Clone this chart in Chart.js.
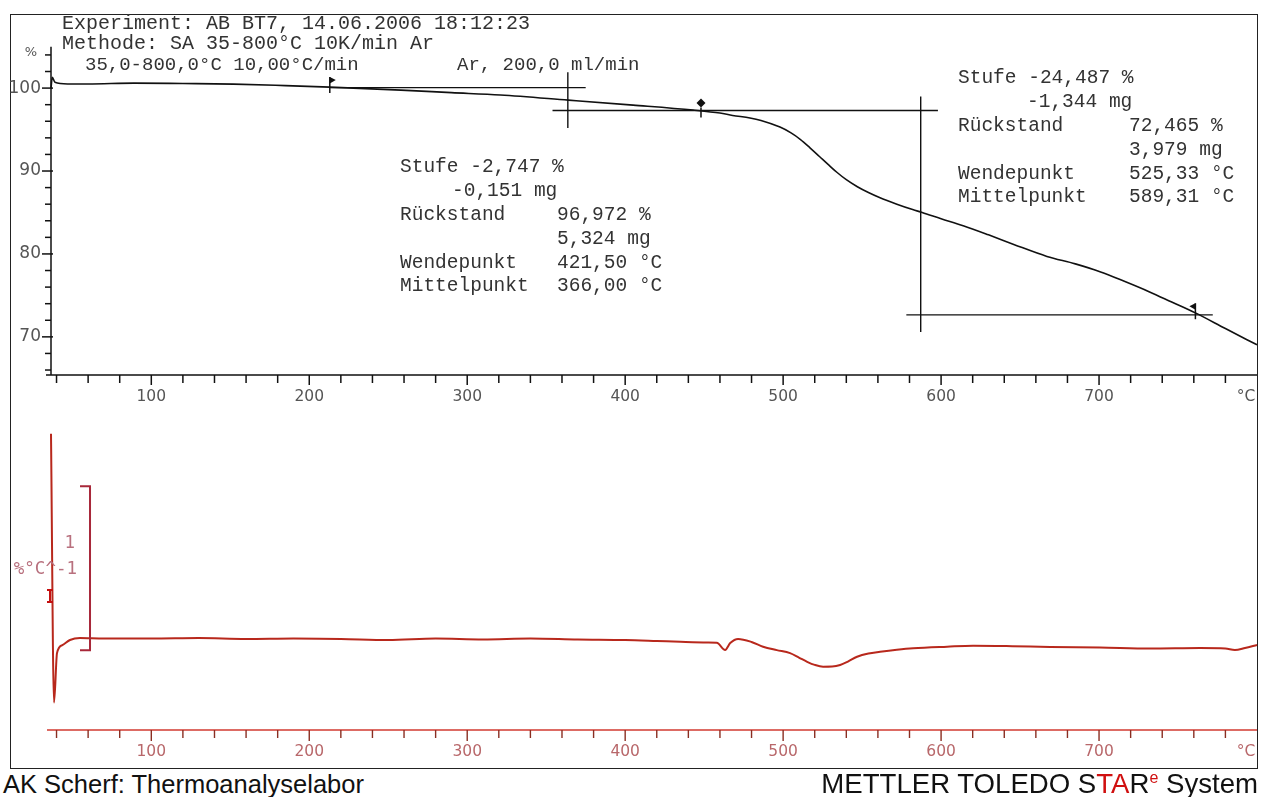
<!DOCTYPE html>
<html>
<head>
<meta charset="utf-8">
<title>TGA AB BT7</title>
<script src="https://cdn.jsdelivr.net/npm/chart.js"></script>
<style>
  body { margin: 0; background: #fff; }
  #page { position: relative; width: 1264px; height: 797px; overflow: hidden; }
  #frame { position: absolute; left: 10px; top: 14px; width: 1248px; height: 755px; border: 1.5px solid #222; box-sizing: border-box; }
  canvas { position: absolute; left: 0; }
  #tga { top: 0; }
  #dtg { top: 420px; }
  .foot { position: absolute; top: 770px; font-family: "Liberation Sans", Arial, sans-serif; color: #111; line-height: 28px; white-space: nowrap; }
  .foot sup { font-size: 16px; line-height: 0; color: #d01010; }
</style>
</head>
<body>
<div id="page">
  <div id="frame"></div>
  <canvas id="tga" width="1264" height="420"></canvas>
  <canvas id="dtg" width="1264" height="350"></canvas>
  <div class="foot" style="left:3px; font-size:25.5px">AK Scherf: Thermoanalyselabor</div>
  <div class="foot" style="right:6px; font-size:27.6px">METTLER TOLEDO S<span style="color:#d01010">TA</span>R<sup>e</sup> System</div>
</div>

<script>
// TGA curve (mass in %) against temperature in °C
const tgaTemp = [36.5, 37.3, 39, 47, 60, 89, 120, 152, 185, 213, 258, 290, 321, 364, 405, 443, 460, 468, 479, 486,
                 498, 505, 511, 517, 523, 529, 534, 540, 547, 554, 561, 572, 582, 588, 600, 614, 630, 646, 667, 685,
                 701, 716, 732, 746, 761, 780, 800];
const tgaMass = [100.0, 101.3, 100.7, 100.5, 100.5, 100.6, 100.55, 100.48, 100.3, 100.12, 99.76, 99.45, 99.16, 98.55, 97.95, 97.35, 96.99, 96.7, 96.4, 96.1,
                 95.3, 94.6, 93.8, 92.8, 91.75, 90.7, 89.85, 88.95, 88.1, 87.4, 86.8, 86.0, 85.35, 85.0, 84.25, 83.4, 82.3, 81.15, 79.7, 78.8,
                 77.83, 76.7, 75.42, 74.2, 72.89, 71.0, 69.04];

// DTG curve (%/°C)
const dtgTemp = [36.5, 38.4, 40.3, 43.7, 48.5, 54.8, 70, 100, 130, 160, 190, 220, 250, 280, 310, 340, 370, 400, 420, 435,
                 452, 458, 463.3, 466.5, 471.5, 480, 487.3, 496, 504.4, 510, 515.2, 520, 525.3, 531, 536.1, 541, 546.8, 554, 561.4, 572,
                 582.3, 603.8, 620.3, 645, 669, 700.6, 732.3, 764, 780, 786, 792.4, 800];
const dtgRate = [1.24, -0.40, -0.098, -0.049, -0.018, -0.006, -0.009, -0.009, -0.006, -0.012, -0.009, -0.012, -0.018, -0.009, -0.015, -0.009, -0.015, -0.018, -0.024, -0.029,
                 -0.033, -0.035, -0.079, -0.037, -0.012, -0.03, -0.059, -0.08, -0.098, -0.125, -0.151, -0.170, -0.181, -0.180, -0.171, -0.150, -0.120, -0.100, -0.090, -0.078,
                 -0.069, -0.059, -0.053, -0.056, -0.061, -0.064, -0.070, -0.067, -0.070, -0.079, -0.067, -0.049];

// step evaluation: horizontal tangents and vertical midpoint lines
const tangentStart = [213, 354, 578];
const tangentEnd = [375, 598, 772];
const tangentLevel = [100.06, 97.29, 72.65];
const midTemp = [363.7, 587.1];
const midTop = [101.9, 99.0];
const midBottom = [95.2, 70.6];

// markers on the curve
const markTemp = [213, 448, 761];
const markMass = [100.12, 97.3, 72.85];
const markKind = ['flagR', 'diamond', 'flagL'];

const xTickLabels = [100, 200, 300, 400, 500, 600, 700];
const yTickLabels = [70, 80, 90, 100];

const dtgScaleBar = [0.92, -0.08]; // 1 %/°C

const mono = '19.5px "Liberation Mono", "Courier New", monospace';
const sans = '15.5px "DejaVu Sans", Verdana, sans-serif';

const tgaDatasets = [{
    data: tgaTemp.map((t, i) => ({ x: t, y: tgaMass[i] })),
    borderColor: '#111', borderWidth: 1.6, pointRadius: 0,
    cubicInterpolationMode: 'monotone', clip: false
}];
tangentLevel.forEach((lvl, i) => {
    tgaDatasets.push({
        data: [{ x: tangentStart[i], y: lvl }, { x: tangentEnd[i], y: lvl }],
        borderColor: '#111', borderWidth: 1.4, pointRadius: 0
    });
});
midTemp.forEach((t, i) => {
    tgaDatasets.push({
        data: [{ x: t, y: midTop[i] }, { x: t, y: midBottom[i] }],
        borderColor: '#111', borderWidth: 1.4, pointRadius: 0
    });
});

const tgaDecor = {
    id: 'tgaDecor',
    afterDraw(chart) {
        const { ctx, chartArea: a, scales: { x, y } } = chart;
        ctx.save();
        ctx.strokeStyle = '#111';
        ctx.lineWidth = 1.5;
        ctx.beginPath();
        ctx.moveTo(a.left - 5, a.bottom);
        ctx.lineTo(a.right, a.bottom);
        ctx.moveTo(a.left, y.getPixelForValue(105));
        ctx.lineTo(a.left, a.bottom);
        ctx.stroke();

        for (let t = 40; t <= 780; t += 20) {
            const px = x.getPixelForValue(t);
            const len = t % 100 === 0 ? 10 : 8;
            ctx.beginPath();
            ctx.moveTo(px, a.bottom);
            ctx.lineTo(px, a.bottom + len);
            ctx.stroke();
        }
        for (let v = 66; v <= 104; v += 2) {
            const py = y.getPixelForValue(v);
            const major = v % 10 === 0;
            ctx.beginPath();
            ctx.moveTo(a.left - (major ? 9 : 6), py);
            ctx.lineTo(a.left + (major ? 2 : 0), py);
            ctx.stroke();
        }

        ctx.fillStyle = '#555';
        ctx.font = sans;
        ctx.textAlign = 'center';
        ctx.textBaseline = 'middle';
        xTickLabels.forEach(t => ctx.fillText(String(t), x.getPixelForValue(t), 397));
        ctx.fillText('°C', 1246, 397);
        ctx.font = '17px "DejaVu Sans", Verdana, sans-serif';
        ctx.textAlign = 'right';
        yTickLabels.forEach(v => ctx.fillText(String(v), a.left - 10, y.getPixelForValue(v)));
        ctx.font = '13px "DejaVu Sans", sans-serif';
        ctx.textAlign = 'center';
        ctx.fillText('%', 31, 53);

        // header and evaluation texts
        ctx.fillStyle = '#333';
        ctx.textAlign = 'left';
        ctx.textBaseline = 'alphabetic';
        ctx.font = '20px "Liberation Mono", "Courier New", monospace';
        ctx.fillText('Experiment: AB BT7, 14.06.2006 18:12:23', 62, 29);
        ctx.fillText('Methode: SA 35-800°C 10K/min Ar', 62, 49);
        ctx.font = '19px "Liberation Mono", "Courier New", monospace';
        ctx.fillText('35,0-800,0°C 10,00°C/min', 85, 70);
        ctx.fillText('Ar, 200,0 ml/min', 457, 70);

        ctx.font = mono;
        const mid = [['Stufe -2,747 %', 400, 172], ['-0,151 mg', 452, 196], ['Rückstand', 400, 220], ['96,972 %', 557, 220],
                     ['5,324 mg', 557, 244], ['Wendepunkt', 400, 268], ['421,50 °C', 557, 268], ['Mittelpunkt', 400, 291], ['366,00 °C', 557, 291]];
        const right = [['Stufe -24,487 %', 958, 83], ['-1,344 mg', 1027, 107], ['Rückstand', 958, 131], ['72,465 %', 1129, 131],
                       ['3,979 mg', 1129, 155], ['Wendepunkt', 958, 179], ['525,33 °C', 1129, 179], ['Mittelpunkt', 958, 202], ['589,31 °C', 1129, 202]];
        mid.concat(right).forEach(([s, px, py]) => ctx.fillText(s, px, py));

        // curve markers
        ctx.fillStyle = '#111';
        ctx.lineWidth = 1.5;
        markTemp.forEach((t, i) => {
            const px = x.getPixelForValue(t);
            const py = y.getPixelForValue(markMass[i]);
            ctx.beginPath();
            if (markKind[i] === 'diamond') {
                ctx.moveTo(px, py - 3);
                ctx.lineTo(px, py + 7);
                ctx.stroke();
                ctx.beginPath();
                ctx.moveTo(px, py - 12);
                ctx.lineTo(px + 4.5, py - 7.5);
                ctx.lineTo(px, py - 3);
                ctx.lineTo(px - 4.5, py - 7.5);
                ctx.closePath();
                ctx.fill();
            } else {
                const dir = markKind[i] === 'flagR' ? 1 : -1;
                ctx.moveTo(px, py - 10);
                ctx.lineTo(px, py + 6);
                ctx.stroke();
                ctx.beginPath();
                ctx.moveTo(px, py - 10);
                ctx.lineTo(px + dir * 6, py - 7);
                ctx.lineTo(px, py - 3.5);
                ctx.closePath();
                ctx.fill();
            }
        });
        ctx.restore();
    }
};

new Chart(document.getElementById('tga').getContext('2d'), {
    type: 'line',
    data: { datasets: tgaDatasets },
    options: {
        responsive: false,
        animation: false,
        layout: { padding: { left: 51, right: 7, top: 40, bottom: 45 } },
        plugins: { legend: { display: false }, tooltip: { enabled: false } },
        scales: {
            x: { type: 'linear', min: 36.5, max: 800, display: false },
            y: { type: 'linear', min: 65.4, max: 105.8, display: false }
        }
    },
    plugins: [tgaDecor]
});

const dtgDecor = {
    id: 'dtgDecor',
    afterDraw(chart) {
        const { ctx, chartArea: a, scales: { x, y } } = chart;
        ctx.save();
        ctx.strokeStyle = '#d23a30';
        ctx.lineWidth = 1.6;
        ctx.beginPath();
        ctx.moveTo(a.left - 4, a.bottom);
        ctx.lineTo(a.right, a.bottom);
        ctx.stroke();
        ctx.strokeStyle = '#8a2e22';
        ctx.lineWidth = 1.4;
        for (let t = 40; t <= 780; t += 20) {
            const px = x.getPixelForValue(t);
            const len = t % 100 === 0 ? 11 : 8;
            ctx.beginPath();
            ctx.moveTo(px, a.bottom);
            ctx.lineTo(px, a.bottom + len);
            ctx.stroke();
        }
        ctx.fillStyle = '#b8676a';
        ctx.font = sans;
        ctx.textAlign = 'center';
        ctx.textBaseline = 'middle';
        xTickLabels.forEach(t => ctx.fillText(String(t), x.getPixelForValue(t), a.bottom + 22));
        ctx.fillText('°C', 1246, a.bottom + 22);

        // 1 %/°C scale bar
        const bx = x.getPixelForValue(61.2);
        const bTop = y.getPixelForValue(dtgScaleBar[0]);
        const bBot = y.getPixelForValue(dtgScaleBar[1]);
        ctx.strokeStyle = '#a8283a';
        ctx.lineWidth = 2;
        ctx.beginPath();
        ctx.moveTo(bx - 10, bTop);
        ctx.lineTo(bx, bTop);
        ctx.lineTo(bx, bBot);
        ctx.lineTo(bx - 10, bBot);
        ctx.stroke();
        ctx.fillStyle = '#b8707e';
        ctx.font = '17.5px "DejaVu Sans Mono", monospace';
        ctx.textAlign = 'right';
        ctx.fillText('1', 75, (bTop + bBot) / 2 - 25);
        ctx.fillText('%°C^-1', 77, (bTop + bBot) / 2 + 1);

        // "I" start marker
        const ix = a.left - 1;
        const iy = y.getPixelForValue(0.25);
        ctx.strokeStyle = '#c41010';
        ctx.lineWidth = 2;
        ctx.beginPath();
        ctx.moveTo(ix, iy - 6); ctx.lineTo(ix, iy + 6);
        ctx.moveTo(ix - 3, iy - 6); ctx.lineTo(ix + 3, iy - 6);
        ctx.moveTo(ix - 3, iy + 6); ctx.lineTo(ix + 3, iy + 6);
        ctx.stroke();
        ctx.restore();
    }
};

new Chart(document.getElementById('dtg').getContext('2d'), {
    type: 'line',
    data: {
        datasets: [{
            data: dtgTemp.map((t, i) => ({ x: t, y: dtgRate[i] })),
            borderColor: '#b8281c', borderWidth: 2, pointRadius: 0,
            cubicInterpolationMode: 'monotone', clip: false
        }]
    },
    options: {
        responsive: false,
        animation: false,
        layout: { padding: { left: 51, right: 7, top: 5, bottom: 40 } },
        plugins: { legend: { display: false }, tooltip: { enabled: false } },
        scales: {
            x: { type: 'linear', min: 36.5, max: 800, display: false },
            y: { type: 'linear', min: -0.567, max: 1.293, display: false }
        }
    },
    plugins: [dtgDecor]
});
</script>
</body>
</html>
